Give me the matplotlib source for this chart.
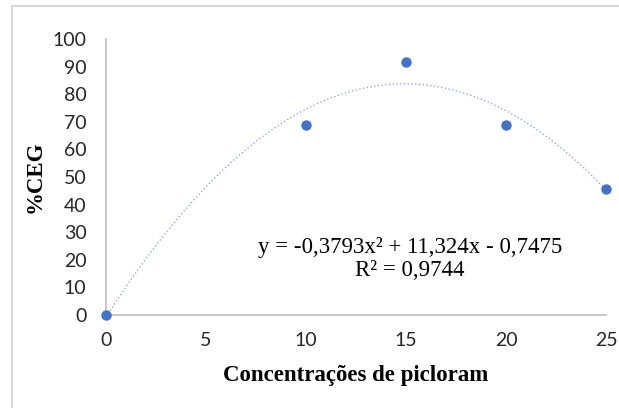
import numpy as np
import matplotlib
matplotlib.use("Agg")
import matplotlib.pyplot as plt
from matplotlib.patches import Rectangle

# data
conc = [0, 10, 15, 20, 25]
ceg = [0, 68.75, 91.67, 68.75, 45.83]
# trendline coefficients as printed on the chart
coef = [-0.3793, 11.324, -0.7475]
x_ticks = [0, 5, 10, 15, 20, 25]
y_ticks = [0, 10, 20, 30, 40, 50, 60, 70, 80, 90, 100]

blue = "#4472C4"

fig = plt.figure(figsize=(6.19, 4.08), dpi=100)
ax = fig.add_axes([106 / 619, 93 / 408, 500 / 619, 276 / 408])

# outer chart border (runs off right/bottom edges)
fig.patches.append(Rectangle((12 / 619, -0.1), 1.2, 1.1 - 6 / 408,
                             transform=fig.transFigure, fill=False,
                             edgecolor="#d9d9d9", linewidth=1.5))

xs = np.linspace(0, 25, 200)
ax.plot(xs, np.polyval(coef, xs), linestyle=(0, (1, 2)), color=blue,
        linewidth=0.9, alpha=0.7)
ax.plot(conc, ceg, "o", color=blue, markersize=6.5, clip_on=False, zorder=3)

ax.set_xlim(0, 25)
ax.set_ylim(0, 100)
ax.set_xticks(x_ticks)
ax.set_yticks(y_ticks)
ax.tick_params(axis="y", length=0, labelsize=14, colors="#262626", pad=14)
ax.tick_params(axis="x", length=0, labelsize=14, colors="#262626", pad=12)
for lab in ax.get_xticklabels() + ax.get_yticklabels():
    lab.set_family("Lato")
for s in ["top", "right"]:
    ax.spines[s].set_visible(False)
for s in ["left", "bottom"]:
    ax.spines[s].set_color("#bfbfbf")
    ax.spines[s].set_linewidth(1.2)

ax.set_xlabel("Concentrações de picloram", family="Liberation Serif",
              fontweight="bold", fontsize=16.5, labelpad=12)
ax.set_ylabel("%CEG", family="Liberation Serif", fontweight="bold",
              fontsize=16.5, labelpad=5)

ax.text(15.2, 24.6, "y = -0,3793x² + 11,324x - 0,7475", ha="center",
        va="center", family="Liberation Serif", fontsize=16.5)
ax.text(15.2, 16.0, "R² = 0,9744", ha="center", va="center",
        family="Liberation Serif", fontsize=16.5)

fig.savefig("out.png", dpi=100)
